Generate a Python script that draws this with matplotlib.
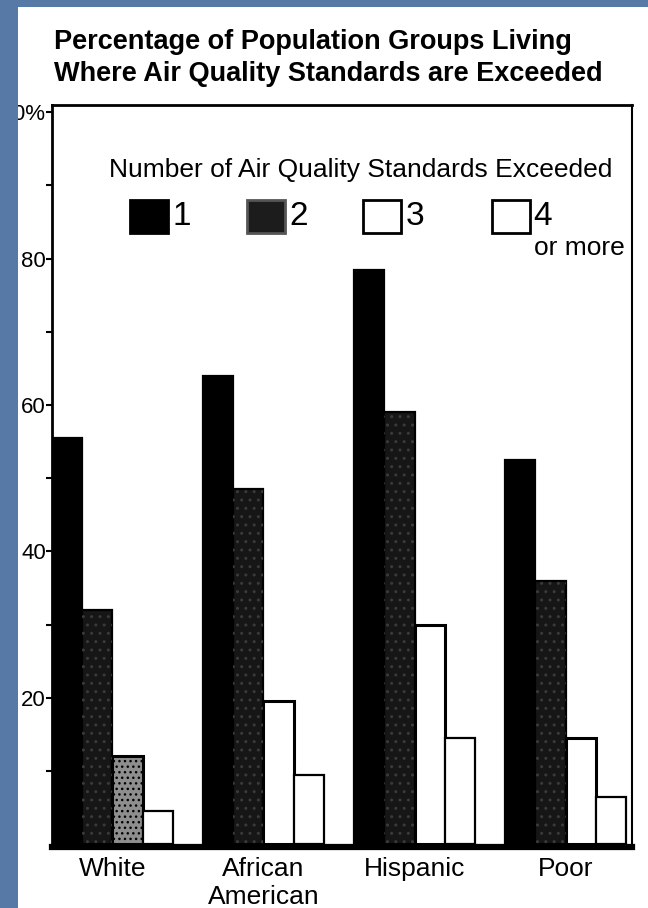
import numpy as np
import matplotlib
matplotlib.use('Agg')
import matplotlib.pyplot as plt
from matplotlib.patches import Rectangle

# data
groups = ['White', 'African\nAmerican', 'Hispanic', 'Poor']
legend_labels = ['1', '2', '3', '4']
one = [55.5, 64, 78.5, 52.5]
two = [32, 48.5, 59, 36]
three = [12, 19.5, 30, 14.5]
four_plus = [4.5, 9.5, 14.5, 6.5]
yticks = [20, 40, 60, 80, 100]
yticklabels = ['20', '40', '60', '80', '100%']
minor_ticks = [10, 30, 50, 70, 90]

plt.rcParams['font.family'] = ['Liberation Sans', 'DejaVu Sans']

blue = '#5679a6'
W, H = 648, 908
fig = plt.figure(figsize=(W / 100, H / 100), dpi=100, facecolor=blue)
# white page of the scan
fig.patches.append(Rectangle((18 / W, 0), 1, 1 - 7 / H, transform=fig.transFigure,
                             facecolor='white', edgecolor='none', zorder=-1))

ax = fig.add_axes([52 / W, 1 - 847 / H, 580 / W, 742 / H])

x = np.arange(len(groups)) * 5
series = [one, two, three, four_plus]
faces = ['black', '#161616', 'white', 'white']
widths = [1.6, 1.6, 2.2, 1.6]
for j, vals in enumerate(series):
    bars = ax.bar(x + j, vals, width=1, color=faces[j], edgecolor='black',
                  linewidth=widths[j], zorder=2)
    if j == 1:
        # speckle of the dark series
        ax.bar(x + j, vals, width=1, facecolor='none', edgecolor='#3a3a3a',
               hatch='..', linewidth=0, zorder=3)
    if j == 2:
        bars[0].set_facecolor('#8e8e8e')
        ax.bar(x[0] + j, vals[0], width=1, facecolor='none', edgecolor='black',
               hatch='...', linewidth=0, zorder=3)

ax.set_xlim(-0.5, 18.7)
ax.set_ylim(-0.4, 101)
ax.set_xticks(x + 1.5)
ax.set_xticklabels(groups, fontsize=19)
ax.tick_params(axis='x', length=0, pad=7)
ax.set_yticks(yticks)
ax.set_yticklabels(yticklabels, fontsize=16)
ax.set_yticks(minor_ticks, minor=True)
ax.tick_params(axis='y', which='major', length=4, width=1.5, pad=0.5)
ax.tick_params(axis='y', which='minor', length=4, width=1.5)

ax.spines['left'].set_linewidth(2)
ax.spines['bottom'].set_linewidth(4.5)
ax.spines['top'].set_linewidth(2)
ax.spines['right'].set_linewidth(1.5)

# legend drawn inside the frame
ax.text(0.533, 0.912, 'Number of Air Quality Standards Exceeded', transform=ax.transAxes,
        ha='center', va='center', fontsize=19)
box_x = [0.134, 0.336, 0.536, 0.759]
box_face = ['black', '#1c1c1c', 'white', 'white']
box_edge = ['black', '#555555', 'black', 'black']
label_x = [0.207, 0.41, 0.609, 0.829]
for bx, fc, ec, lx, lab in zip(box_x, box_face, box_edge, label_x, legend_labels):
    ax.add_patch(Rectangle((bx, 0.827), 0.0655, 0.0445, transform=ax.transAxes,
                           facecolor=fc, edgecolor=ec, linewidth=2, clip_on=False, zorder=4))
    ax.text(lx, 0.850, lab, transform=ax.transAxes, ha='left', va='center', fontsize=24)
ax.text(0.988, 0.807, 'or more', transform=ax.transAxes, ha='right', va='center', fontsize=19)

fig.text(54 / W, 1 - 49 / H, 'Percentage of Population Groups Living',
         fontsize=19.5, fontweight='bold', va='baseline')
fig.text(54 / W, 1 - 81 / H, 'Where Air Quality Standards are Exceeded',
         fontsize=19.5, fontweight='bold', va='baseline')

# blue margin of the slide covers the cut-off start of the top label
fig.patches.append(Rectangle((0, 0), 18 / W, 1, transform=fig.transFigure,
                             facecolor=blue, edgecolor='none', zorder=10))

fig.savefig('out.png', dpi=100, facecolor=blue)
